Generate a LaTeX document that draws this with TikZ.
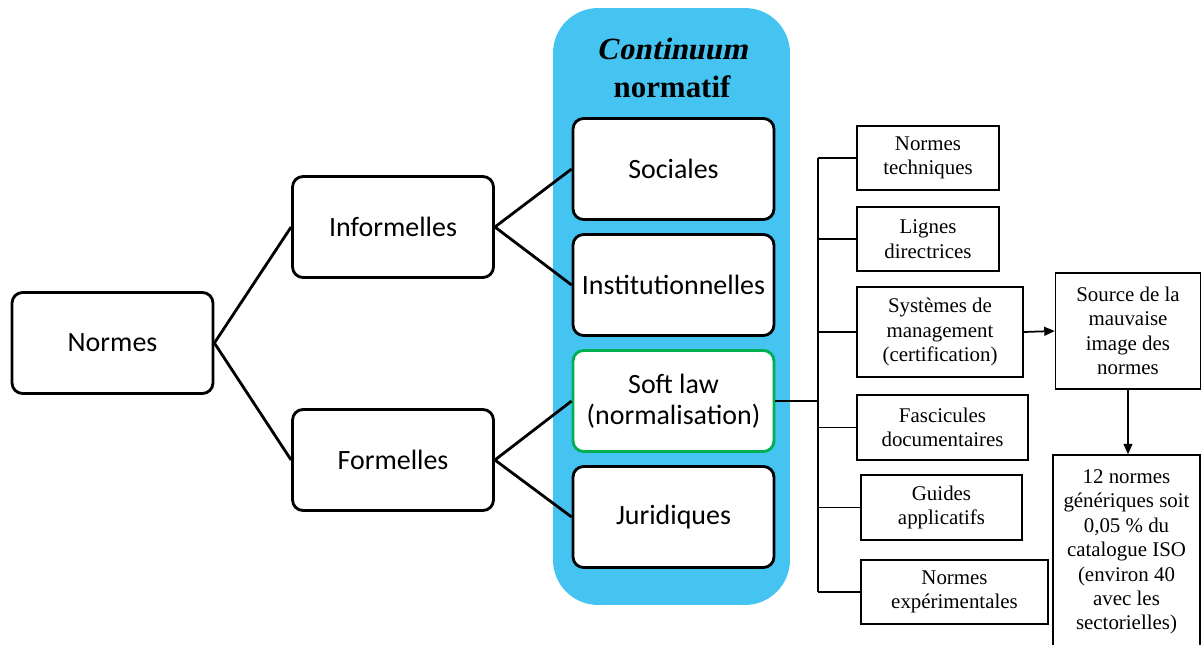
\documentclass[tikz,border=0pt]{standalone}
\usepackage{fontspec}
\setmainfont{Liberation Serif}[BoldItalicFont={Liberation Serif Bold}, BoldItalicFeatures={FakeSlant=0.2}]
\newfontfamily\calibri{Carlito}
\usetikzlibrary{arrows.meta}
\definecolor{bleucont}{RGB}{69,196,242}
\definecolor{vertsoft}{RGB}{0,176,80}
\tikzset{
  rbox/.style={draw, line width=1.6pt, rounded corners=6pt, fill=white,
    minimum width=4.02cm, minimum height=2.02cm, align=center,
    font=\calibri\fontsize{15.9}{17.6}\selectfont},
  sbox/.style={draw, line width=0.8pt, align=center, inner sep=2pt,
    font=\fontsize{11.9}{13.9}\selectfont},
  lien/.style={line width=1.6pt},
  branche/.style={line width=1.1pt},
  fleche/.style={line width=1pt, -{Triangle[length=6pt,width=5pt]}}
}

\begin{document}
\begin{tikzpicture}[x=0.02cm, y=-0.02cm]
% Continuum normatif et typologie des normes
\useasboundingbox (0,0) rectangle (1201,645);
\node[fill=bleucont, rounded corners=0.9cm, minimum width=4.74cm, minimum height=11.94cm] (continuum) at (671.5,306.5) {};
\node[align=center, font=\bfseries\fontsize{17.6}{21.6}\selectfont] (titre) at (672,68) {\textit{Continuum}\\normatif};

\node[rbox] (normes) at (112.5,343) {Normes};
\node[rbox] (informelles) at (393,227) {Informelles};
\node[rbox] (formelles) at (393,460) {Formelles};
\node[rbox] (sociales) at (673.5,169) {Sociales};
\node[rbox] (institution) at (673.5,285) {Institutionnelles};
\node[rbox, draw=vertsoft] (soft) at (673.5,401) {Soft law\\(normalisation)};
\node[rbox] (juridiques) at (673.5,517) {Juridiques};

\draw[lien] (normes.east) -- (informelles.west);
\draw[lien] (normes.east) -- (formelles.west);
\draw[lien] (informelles.east) -- (sociales.west);
\draw[lien] (informelles.east) -- (institution.west);
\draw[lien] (formelles.east) -- (soft.west);
\draw[lien] (formelles.east) -- (juridiques.west);

\node[sbox, minimum width=2.84cm, minimum height=1.28cm] (techniques) at (928,158) {Normes\\techniques};
\node[sbox, minimum width=2.84cm, minimum height=1.28cm] (lignes) at (928,239) {Lignes\\directrices};
\node[sbox, minimum width=3.32cm, minimum height=1.8cm] (systemes) at (940,332) {Systèmes de\\management\\(certification)};
\node[sbox, minimum width=3.42cm, minimum height=1.3cm] (fascicules) at (942.5,427.5) {Fascicules\\documentaires};
\node[sbox, minimum width=3.22cm, minimum height=1.3cm] (guides) at (941.5,507.5) {Guides\\applicatifs};
\node[sbox, minimum width=3.74cm, minimum height=1.28cm] (experimentales) at (954.5,592) {Normes\\expérimentales};
\node[sbox, minimum width=2.9cm, minimum height=2.32cm] (source) at (1128,331) {Source de la\\mauvaise\\image des\\normes};
\node[sbox, minimum width=2.94cm, minimum height=3.88cm] (generiques) at (1126.5,552) {12 normes\\génériques soit\\0,05 \% du\\catalogue ISO\\(environ 40\\avec les\\sectorielles)};

\coordinate (tronc) at (818,401);
\draw[branche] (soft.east) -- (tronc);
\draw[branche] (tronc |- techniques.west) -- (tronc |- experimentales.west);
\foreach \n in {techniques, lignes, systemes, fascicules, guides, experimentales}
  \draw[branche] (tronc |- \n.west) -- (\n.west);

\draw[fleche] (systemes.east) -- (source.west);
\draw[fleche] (source.south) -- (source.south |- generiques.north);
\end{tikzpicture}
\end{document}
